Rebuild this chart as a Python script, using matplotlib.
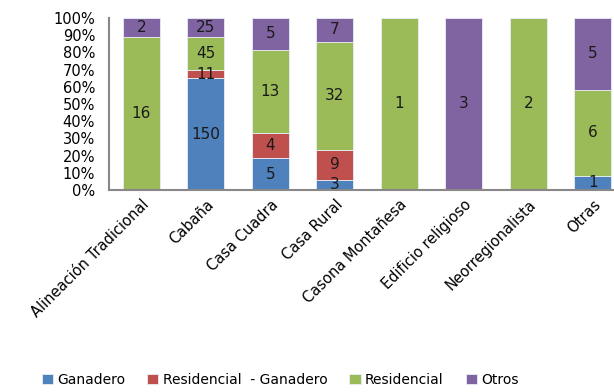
import numpy as np
import matplotlib.pyplot as plt

categorias = ["Alineación Tradicional", "Cabaña", "Casa Cuadra", "Casa Rural",
              "Casona Montañesa", "Edificio religioso", "Neorregionalista", "Otras"]
series = ["Ganadero", "Residencial  - Ganadero", "Residencial", "Otros"]
ganadero = [0, 150, 5, 3, 0, 0, 0, 1]
res_ganadero = [0, 11, 4, 9, 0, 0, 0, 0]
residencial = [16, 45, 13, 32, 1, 0, 2, 6]
otros = [2, 25, 5, 7, 0, 3, 0, 5]
colores = ["#4F81BD", "#C0504D", "#9BBB59", "#8064A2"]

plt.rcParams['font.family'] = ['DejaVu Sans']
fig = plt.figure(figsize=(6.14, 3.92), dpi=100)
ax = fig.add_axes([109 / 614, 1 - 190 / 392, 516 / 614, 172 / 392])

datos = np.array([ganadero, res_ganadero, residencial, otros], dtype=float)
totales = datos.sum(axis=0)
pct = datos / totales
x = np.arange(len(categorias))
base = np.zeros(len(categorias))
for i, nombre in enumerate(series):
    ax.bar(x, pct[i], 0.57, bottom=base, color=colores[i], label=nombre,
           edgecolor="#e8eef5", linewidth=0.6)
    for j in range(len(categorias)):
        if datos[i, j] > 0:
            ax.text(x[j], base[j] + pct[i, j] / 2, "%d" % datos[i, j],
                    ha="center", va="center", fontsize=11, color="#1a1a1a")
    base += pct[i]

ax.set_xlim(-0.5, len(categorias) - 0.5)
ax.set_ylim(0, 1)
ax.set_yticks(np.arange(0, 1.01, 0.1))
ax.set_yticklabels(["%d%%" % v for v in range(0, 101, 10)], fontsize=10.5)
ax.set_xticks(x)
ax.set_xticklabels(categorias, rotation=45, ha="right", rotation_mode="anchor", fontsize=10.5)
ax.tick_params(axis="x", length=0, pad=5)
ax.tick_params(axis="y", length=0, pad=10)
for s in ["top", "right"]:
    ax.spines[s].set_visible(False)
for s in ["left", "bottom"]:
    ax.spines[s].set_color("#888888")
    ax.spines[s].set_linewidth(1.5)

fig.legend(loc="center", bbox_to_anchor=(280 / 614, 1 - 380 / 392), ncol=4,
           frameon=False, fontsize=10, handlelength=0.8, handleheight=0.8,
           handletextpad=0.3, columnspacing=1.6)

fig.savefig("out.png", dpi=100)
